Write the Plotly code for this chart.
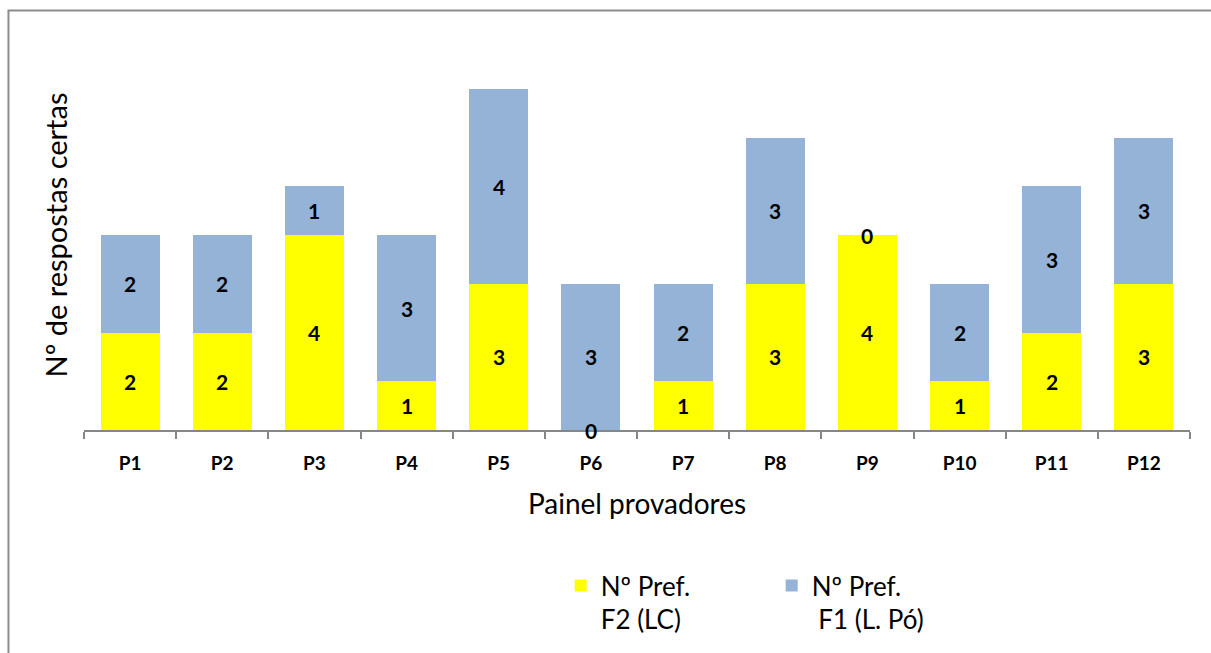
import plotly.graph_objects as go

# Painel de provadores: nº de preferências por formulação
provadores = ["P1", "P2", "P3", "P4", "P5", "P6", "P7", "P8", "P9", "P10", "P11", "P12"]
pref_f2_lc = [2, 2, 4, 1, 3, 0, 1, 3, 4, 1, 2, 3]
pref_f1_lpo = [2, 2, 1, 3, 4, 3, 2, 3, 0, 2, 3, 3]

nome_f2 = "Nº Pref.<br>F2 (LC)"
nome_f1 = "Nº Pref.<br> F1 (L. Pó)"

AMARELO = "#FFFF00"
AZUL = "#95B3D7"
FONTE = "Lato, 'Open Sans', sans-serif"

fig = go.Figure()
fig.add_trace(go.Bar(x=provadores, y=pref_f2_lc, name=nome_f2,
                     marker=dict(color=AMARELO, line=dict(width=0))))
fig.add_trace(go.Bar(x=provadores, y=pref_f1_lpo, name=nome_f1,
                     marker=dict(color=AZUL, line=dict(width=0))))

# rótulos de valor no centro de cada segmento empilhado
fonte_rotulo = dict(family=FONTE, size=21, color="black", weight="bold")
anotacoes = []
for p, a, b in zip(provadores, pref_f2_lc, pref_f1_lpo):
    anotacoes.append(dict(x=p, y=a / 2, text=str(a), showarrow=False,
                          xref="x", yref="y", font=fonte_rotulo))
    anotacoes.append(dict(x=p, y=a + b / 2, text=str(b), showarrow=False,
                          xref="x", yref="y", font=fonte_rotulo))

fig.update_layout(
    barmode="stack",
    bargap=0.36,
    width=1211,
    height=653,
    margin=dict(l=84, r=21, t=40, b=222),
    paper_bgcolor="white",
    plot_bgcolor="white",
    font=dict(family=FONTE, color="black"),
    annotations=anotacoes,
    xaxis=dict(
        showline=True, linecolor="#868686", linewidth=2,
        ticks="outside", ticklen=7, tickcolor="#868686", tickwidth=2,
        tickson="boundaries", ticklabelstandoff=15,
        tickfont=dict(family=FONTE, size=19, color="black", weight="bold"),
        title=dict(text="Painel provadores", font=dict(family=FONTE, size=28, color="black"),
                   standoff=22),
    ),
    yaxis=dict(
        range=[0, 8], showgrid=False, showline=False, showticklabels=False,
        zeroline=False, ticks="",
        title=dict(text="Nº de respostas certas", font=dict(family=FONTE, size=29, color="black"),
                   standoff=6),
    ),
    legend=dict(
        orientation="h", x=0.431, y=-0.335, xanchor="left", yanchor="top",
        font=dict(family=FONTE, size=26, color="black"),
        valign="top", traceorder="normal",
        entrywidth=166, entrywidthmode="pixels",
    ),
    shapes=[dict(type="rect", xref="paper", yref="paper",
                 x0=-0.0683, y0=-1.2, x1=1.2, y1=1.0754,
                 line=dict(color="#8C8C8C", width=2), layer="below")],
)

fig.write_html("out.html")
